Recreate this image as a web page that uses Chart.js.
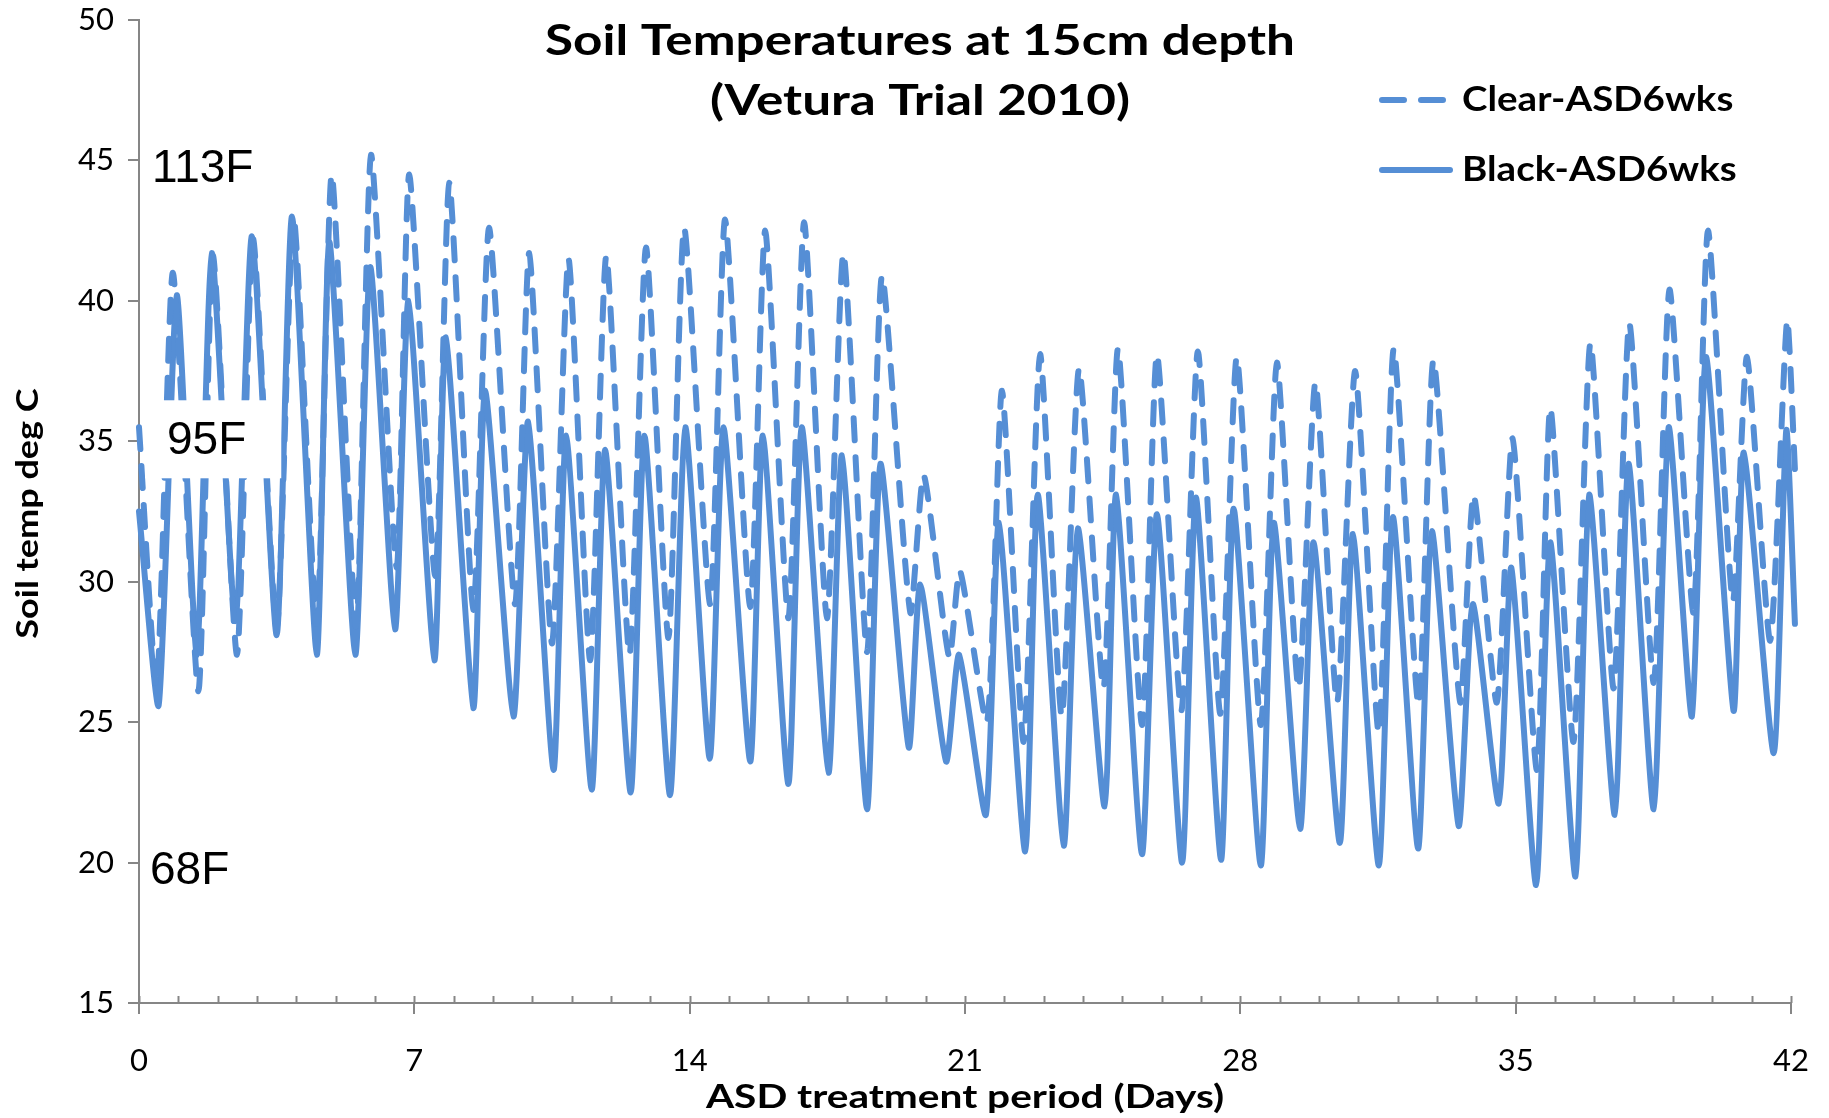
<!DOCTYPE html>
<html>
<head>
<meta charset="utf-8">
<title>Soil Temperatures at 15cm depth</title>
<script src="https://cdn.jsdelivr.net/npm/chart.js@4.4.1/dist/chart.umd.min.js"></script>
<style>
  html, body { margin: 0; padding: 0; background: #fff; }
  #wrap { width: 1829px; height: 1118px; }
</style>
</head>
<body>
<div id="wrap"><canvas id="soilChart"></canvas></div>
<script>
// logger readings at the daily lows and highs, day 0 = start of ASD treatment
const blackDays = [
  0.00, 0.50, 0.96, 1.47, 1.85, 2.45, 2.87, 3.50, 3.89, 4.52, 4.84, 5.50, 5.88, 6.51, 6.85,
  7.51, 7.80, 8.50, 8.80, 9.52, 9.89, 10.54, 10.86, 11.51, 11.85, 12.50, 12.85, 13.50, 13.89,
  14.51, 14.86, 15.54, 15.86, 16.51, 16.85, 17.53, 17.87, 18.51, 18.85, 19.57, 19.86, 20.52, 20.85,
  21.53, 21.86, 22.53, 22.85, 23.51, 23.87, 24.55, 24.84, 25.50, 25.88, 26.52, 26.87, 27.51, 27.83,
  28.52, 28.85, 29.52, 29.86, 30.53, 30.86, 31.52, 31.88, 32.52, 32.87, 33.55, 33.91, 34.57, 34.89,
  35.52, 35.88, 36.52, 36.87, 37.52, 37.87, 38.51, 38.89, 39.48, 39.84, 40.54, 40.80, 41.56, 41.88, 42.10
];
const blackTemps = [
  32.5, 25.6, 40.2, 27.4, 41.7, 28.6, 42.3, 28.1, 43.0, 27.4, 42.1, 27.4, 41.2, 28.3, 40.0,
  27.2, 38.7, 25.5, 36.8, 25.2, 35.7, 23.3, 35.2, 22.6, 34.7, 22.5, 35.2, 22.4, 35.5,
  23.7, 35.5, 23.6, 35.2, 22.8, 35.5, 23.2, 34.5, 21.9, 34.2, 24.1, 29.9, 23.6, 27.4,
  21.7, 32.1, 20.4, 33.1, 20.6, 31.9, 22.0, 33.1, 20.3, 32.4, 20.0, 33.0, 20.1, 32.6,
  19.9, 32.1, 21.2, 31.4, 20.7, 31.7, 19.9, 32.3, 20.5, 31.8, 21.3, 29.2, 22.1, 30.5,
  19.2, 31.4, 19.5, 33.1, 21.7, 34.2, 21.9, 35.5, 25.2, 38.0, 25.4, 34.6, 23.9, 35.4, 28.5
];

const clearDays = [
  0.00, 0.45, 0.86, 1.51, 1.88, 2.49, 2.90, 3.50, 3.93, 4.52, 4.90, 5.52, 5.90, 6.55, 6.87,
  7.53, 7.89, 8.50, 8.90, 9.56, 9.92, 10.50, 10.92, 11.47, 11.88, 12.47, 12.89, 13.46, 13.86,
  14.52, 14.90, 15.54, 15.92, 16.51, 16.91, 17.49, 17.91, 18.51, 18.89, 19.61, 19.95, 20.60, 20.87,
  21.56, 21.94, 22.49, 22.91, 23.46, 23.90, 24.52, 24.89, 25.50, 25.88, 26.50, 26.92, 27.49, 27.91,
  28.52, 28.93, 29.48, 29.91, 30.46, 30.92, 31.52, 31.90, 32.53, 32.91, 33.59, 33.93, 34.52, 34.92,
  35.54, 35.88, 36.47, 36.90, 37.49, 37.89, 38.51, 38.91, 39.52, 39.89, 40.52, 40.88, 41.47, 41.90, 42.10
];
const clearTemps = [
  35.5, 26.3, 41.0, 26.1, 41.6, 27.4, 42.2, 28.3, 43.0, 28.5, 44.5, 28.4, 45.2, 30.5, 44.5,
  30.2, 44.2, 29.0, 42.6, 29.2, 41.7, 27.8, 41.5, 27.2, 41.6, 27.4, 41.9, 28.0, 42.6,
  29.2, 42.9, 29.1, 42.5, 28.7, 42.8, 28.7, 41.7, 27.5, 40.9, 28.9, 33.8, 27.3, 30.4,
  25.0, 36.8, 24.3, 38.1, 25.2, 37.6, 26.2, 38.3, 24.9, 38.1, 25.4, 38.2, 25.3, 38.0,
  24.9, 37.8, 26.2, 37.1, 25.7, 37.5, 24.6, 38.3, 25.6, 37.9, 25.7, 33.1, 25.7, 35.1,
  23.3, 36.2, 24.3, 38.5, 26.2, 39.2, 26.4, 40.4, 28.9, 42.5, 29.3, 38.0, 27.9, 39.3, 34.0
];

const dayTicks = [0, 7, 14, 21, 28, 35, 42];
const tempTicks = [15, 20, 25, 30, 35, 40, 45, 50];
const seriesNames = ["Clear-ASD6wks", "Black-ASD6wks"];
const fahrenheitLabels = ["113F", "95F", "68F"];
const fahrenheitAtC = [45, 35, 20];

const LINE_BLUE = "#558ed5";
const AXIS_GREY = "#868686";
const LINE_W = 6;
const DASH = [22, 17];

const toPoints = (days, temps) => days.map((d, i) => ({ x: d, y: temps[i] }));

// bold headings are set a little wider than the regular face
function wideText(ctx, text, x, y, stretch, angle = 0) {
  ctx.save();
  ctx.translate(x, y);
  ctx.rotate(angle);
  ctx.scale(stretch, 1);
  ctx.fillText(text, 0, 0);
  ctx.restore();
}

// title, legend, axis titles, °F reference labels and the small daily ticks
const decorations = {
  id: "decorations",
  afterDraw(chart) {
    const { ctx, chartArea, scales: { x, y } } = chart;
    ctx.save();

    ctx.strokeStyle = AXIS_GREY;
    ctx.lineWidth = 2;
    for (let d = 0; d <= dayTicks[dayTicks.length - 1]; d++) {
      const px = Math.round(x.getPixelForValue(d)) + 0.5;
      ctx.beginPath();
      ctx.moveTo(px, chartArea.bottom);
      ctx.lineTo(px, chartArea.bottom - 7);
      ctx.stroke();
    }

    // Fahrenheit equivalents next to the axis
    const nudges = [{ dx: 13, dy: 9, box: false }, { dx: 28, dy: 0, box: true }, { dx: 11, dy: 9, box: false }];
    ctx.font = "46px 'Liberation Sans', Arial, sans-serif";
    ctx.textBaseline = "middle";
    ctx.textAlign = "left";
    fahrenheitLabels.forEach((label, i) => {
      const tx = chartArea.left + nudges[i].dx;
      const ty = y.getPixelForValue(fahrenheitAtC[i]) + nudges[i].dy;
      if (nudges[i].box) {
        const w = ctx.measureText(label).width;
        ctx.fillStyle = "#fff";
        ctx.fillRect(tx - 22, ty - 41, w + 57, 78);
      }
      ctx.fillStyle = "#000";
      ctx.fillText(label, tx, ty);
    });

    // chart title
    ctx.fillStyle = "#000";
    ctx.textAlign = "center";
    ctx.font = "bold 42px Lato, sans-serif";
    wideText(ctx, "Soil Temperatures at 15cm depth", 920, 41, 1.22);
    wideText(ctx, "(Vetura Trial 2010)", 920, 101, 1.22);

    // axis titles
    ctx.font = "bold 33px Lato, sans-serif";
    wideText(ctx, "ASD treatment period (Days)", (chartArea.left + chartArea.right) / 2, 1097, 1.23);
    ctx.font = "bold 30px Lato, sans-serif";
    wideText(ctx, "Soil temp deg C", 28, (chartArea.top + chartArea.bottom) / 2 + 2, 1.2, -Math.PI / 2);

    // legend
    const rows = [100, 170];
    ctx.textAlign = "left";
    ctx.font = "bold 35px Lato, sans-serif";
    seriesNames.forEach((name, i) => {
      ctx.strokeStyle = LINE_BLUE;
      ctx.lineWidth = LINE_W;
      ctx.lineCap = "round";
      ctx.setLineDash(i === 0 ? DASH : []);
      ctx.beginPath();
      ctx.moveTo(1382, rows[i]);
      ctx.lineTo(1450, rows[i]);
      ctx.stroke();
      ctx.setLineDash([]);
      wideText(ctx, name, 1462, rows[i], 1.1);
    });

    ctx.restore();
  }
};

const lineStyle = {
  borderColor: LINE_BLUE,
  borderWidth: LINE_W,
  borderCapStyle: "round",
  borderJoinStyle: "round",
  tension: 0.2,
  pointRadius: 0,
  clip: false
};

const chart = new Chart(document.getElementById("soilChart"), {
  type: "line",
  data: {
    datasets: [
      { ...lineStyle, label: seriesNames[0], data: toPoints(clearDays, clearTemps), borderDash: DASH },
      { ...lineStyle, label: seriesNames[1], data: toPoints(blackDays, blackTemps) }
    ]
  },
  options: {
    responsive: true,
    maintainAspectRatio: false,
    animation: false,
    layout: { autoPadding: false, padding: { top: 20, right: 38, left: 0, bottom: 0 } },
    plugins: {
      legend: { display: false },
      title: { display: false },
      tooltip: { enabled: false }
    },
    scales: {
      x: {
        type: "linear",
        min: 0,
        max: 42,
        afterBuildTicks: (scale) => { scale.ticks = dayTicks.map(v => ({ value: v })); },
        afterFit: (scale) => {
          scale.height = 115;
          scale.paddingLeft = 0;
          scale.paddingRight = 0;
        },
        grid: { drawOnChartArea: false, color: AXIS_GREY, lineWidth: 2, tickLength: 11 },
        border: { color: AXIS_GREY, width: 2 },
        ticks: { color: "#000", padding: 28, maxRotation: 0, font: { family: "Lato", size: 31 } }
      },
      y: {
        min: 15,
        max: 50,
        afterBuildTicks: (scale) => { scale.ticks = tempTicks.map(v => ({ value: v })); },
        afterFit: (scale) => {
          scale.width = 139;
          scale.paddingTop = 0;
          scale.paddingBottom = 0;
        },
        grid: { drawOnChartArea: false, color: AXIS_GREY, lineWidth: 2, tickLength: 11 },
        border: { color: AXIS_GREY, width: 2 },
        ticks: { color: "#000", padding: 14, font: { family: "Lato", size: 31 } }
      }
    }
  },
  plugins: [decorations]
});
</script>
</body>
</html>
